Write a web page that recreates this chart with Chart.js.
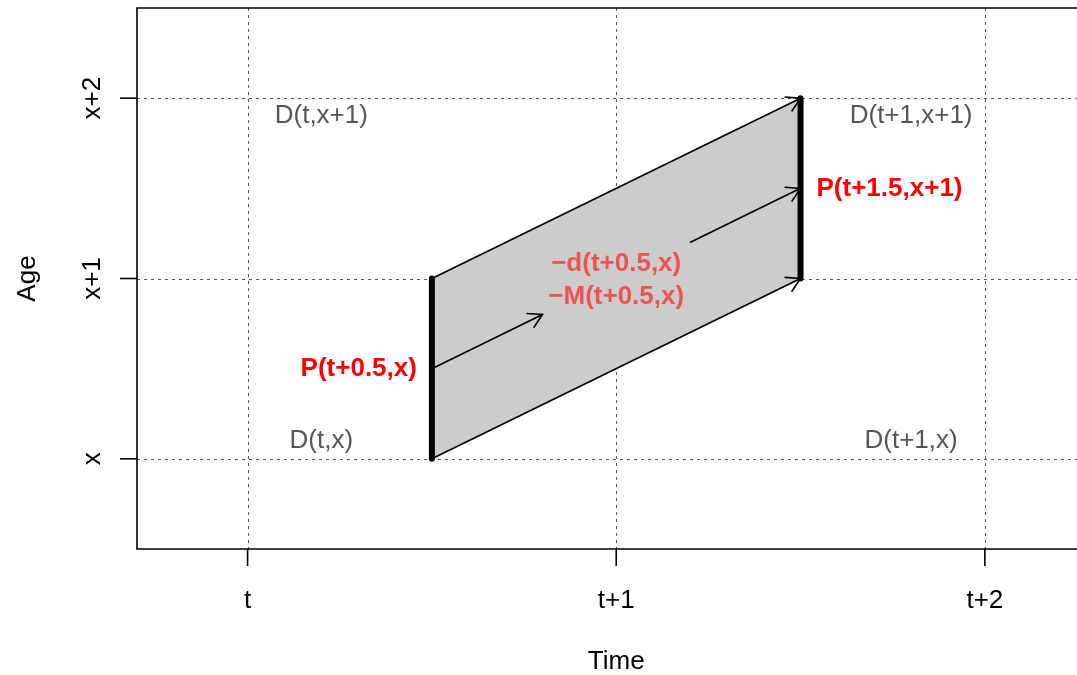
<!DOCTYPE html>
<html>
<head>
<meta charset="utf-8">
<script src="https://cdn.jsdelivr.net/npm/chart.js@4.4.1/dist/chart.umd.min.js"></script>
<style>
  body { margin: 0; background: #fff; }
  canvas { display: block; }
</style>
</head>
<body>
<canvas id="lexis" width="1077" height="675"></canvas>
<script>
// axis ticks
const timeTicks = [0, 1, 2]
const timeLabels = ['t', 't+1', 't+2']
const ageTicks = [0, 1, 2]
const ageLabels = ['x', 'x+1', 'x+2']

// the shaded Lexis parallelogram (time, age)
const shapeTime = [0.5, 1.5, 1.5, 0.5, 0.5]
const shapeAge = [0, 1, 2, 1, 0]

// thick vertical segments
const thickTime = [[0.5, 0.5], [1.5, 1.5]]
const thickAge = [[0, 1], [1, 2]]

// arrows: from -> to
const arrowFromTime = [0.5, 0.5, 0.5, 1.2]
const arrowFromAge = [0, 1, 0.5, 1.2]
const arrowToTime = [1.5, 1.5, 0.8, 1.5]
const arrowToAge = [1, 2, 0.8, 1.5]

// grey cell labels
const cellText = ['D(t,x+1)', 'D(t+1,x+1)', 'D(t,x)', 'D(t+1,x)']
const cellTime = [0.2, 1.8, 0.2, 1.8]
const cellAge = [1.9, 1.9, 0.1, 0.1]

// red labels
const popText = ['P(t+0.5,x)', 'P(t+1.5,x+1)']
const popTime = [0.5, 1.5]
const popAge = [0.5, 1.5]
const rateText = ['\u2212d(t+0.5,x)', '\u2212M(t+0.5,x)']
const rateTime = [1, 1]
const rateAge = [1.08, 0.9]

const pts = (xs, ys) => xs.map((x, i) => ({ x, y: ys[i] }))

// first dataset ends up on top, so the shape goes last
const datasets = []
thickTime.forEach((t, i) => {
  datasets.push({
    data: pts(t, thickAge[i]), showLine: true, borderColor: '#000',
    borderWidth: 6, borderCapStyle: 'round', pointRadius: 0
  })
})
arrowFromTime.forEach((_, i) => {
  datasets.push({
    data: pts([arrowFromTime[i], arrowToTime[i]], [arrowFromAge[i], arrowToAge[i]]),
    showLine: true, borderColor: '#000', borderWidth: 1.6, pointRadius: 0, arrow: true
  })
})
datasets.push({
  data: pts(shapeTime, shapeAge), showLine: true, fill: 'shape',
  backgroundColor: '#cccccc', borderWidth: 0, pointRadius: 0
})

const FONT = '"Liberation Sans", Arial, Helvetica, sans-serif'

const lexisPlugin = {
  id: 'lexis',
  beforeDatasetsDraw(chart) {
    const { ctx, chartArea: a, scales: { x, y } } = chart
    ctx.save()
    ctx.strokeStyle = '#555'
    ctx.lineWidth = 1
    ctx.setLineDash([3, 4])
    timeTicks.forEach(v => {
      const px = Math.round(x.getPixelForValue(v)) + 0.5
      ctx.beginPath(); ctx.moveTo(px, a.top); ctx.lineTo(px, a.bottom); ctx.stroke()
    })
    ageTicks.forEach(v => {
      const py = Math.round(y.getPixelForValue(v)) + 0.5
      ctx.beginPath(); ctx.moveTo(a.left, py); ctx.lineTo(a.right, py); ctx.stroke()
    })
    ctx.restore()
  },
  afterDatasetsDraw(chart) {
    const { ctx, chartArea: a, scales: { x, y } } = chart
    ctx.save()
    // arrow heads
    chart.data.datasets.forEach((ds, i) => {
      if (!ds.arrow) return
      const p = chart.getDatasetMeta(i).data
      const x0 = p[0].x, y0 = p[0].y, x1 = p[1].x, y1 = p[1].y
      const ang = Math.atan2(y1 - y0, x1 - x0)
      const len = 16, spread = Math.PI / 6
      ctx.strokeStyle = '#000'
      ctx.lineWidth = 1.6
      ctx.beginPath()
      ctx.moveTo(x1 - len * Math.cos(ang - spread), y1 - len * Math.sin(ang - spread))
      ctx.lineTo(x1, y1)
      ctx.lineTo(x1 - len * Math.cos(ang + spread), y1 - len * Math.sin(ang + spread))
      ctx.stroke()
    })

    // box: left, top, bottom
    ctx.strokeStyle = '#000'
    ctx.lineWidth = 1.6
    ctx.beginPath()
    ctx.moveTo(a.right, a.top); ctx.lineTo(a.left, a.top)
    ctx.lineTo(a.left, a.bottom); ctx.lineTo(a.right, a.bottom)
    ctx.stroke()

    // ticks and tick labels
    ctx.fillStyle = '#000'
    ctx.font = '26px ' + FONT
    ctx.textAlign = 'center'
    ctx.textBaseline = 'middle'
    timeTicks.forEach((v, i) => {
      const px = x.getPixelForValue(v)
      ctx.beginPath(); ctx.moveTo(px, a.bottom); ctx.lineTo(px, a.bottom + 17); ctx.stroke()
      ctx.fillText(timeLabels[i], px, 601)
    })
    ageTicks.forEach((v, i) => {
      const py = y.getPixelForValue(v)
      ctx.beginPath(); ctx.moveTo(a.left, py); ctx.lineTo(a.left - 17, py); ctx.stroke()
      ctx.save()
      ctx.translate(93, py)
      ctx.rotate(-Math.PI / 2)
      ctx.fillText(ageLabels[i], 0, 0)
      ctx.restore()
    })

    // axis titles
    ctx.fillText('Time', x.getPixelForValue(1), 662)
    ctx.save()
    ctx.translate(28, (a.top + a.bottom) / 2)
    ctx.rotate(-Math.PI / 2)
    ctx.fillText('Age', 0, 0)
    ctx.restore()

    // cell labels
    ctx.fillStyle = '#555555'
    cellText.forEach((t, i) => {
      ctx.fillText(t, x.getPixelForValue(cellTime[i]), y.getPixelForValue(cellAge[i]))
    })

    // rates
    ctx.font = 'bold 26px ' + FONT
    ctx.fillStyle = '#f05252'
    rateText.forEach((t, i) => {
      ctx.fillText(t, x.getPixelForValue(rateTime[i]), y.getPixelForValue(rateAge[i]))
    })

    // populations
    ctx.fillStyle = '#ff0000'
    ctx.textAlign = 'right'
    ctx.fillText(popText[0], x.getPixelForValue(popTime[0]) - 15, y.getPixelForValue(popAge[0]))
    ctx.textAlign = 'left'
    ctx.fillText(popText[1], x.getPixelForValue(popTime[1]) + 16, y.getPixelForValue(popAge[1]))
    ctx.restore()
  }
}

new Chart(document.getElementById('lexis').getContext('2d'), {
  type: 'scatter',
  data: { datasets },
  options: {
    responsive: false,
    animation: false,
    layout: { padding: { left: 137, top: 8, right: 0, bottom: 126 } },
    plugins: { legend: { display: false }, tooltip: { enabled: false } },
    scales: {
      x: { type: 'linear', min: -0.3, max: 2.25, display: false },
      y: { type: 'linear', min: -0.5, max: 2.5, display: false }
    }
  },
  plugins: [lexisPlugin]
})
</script>
</body>
</html>
